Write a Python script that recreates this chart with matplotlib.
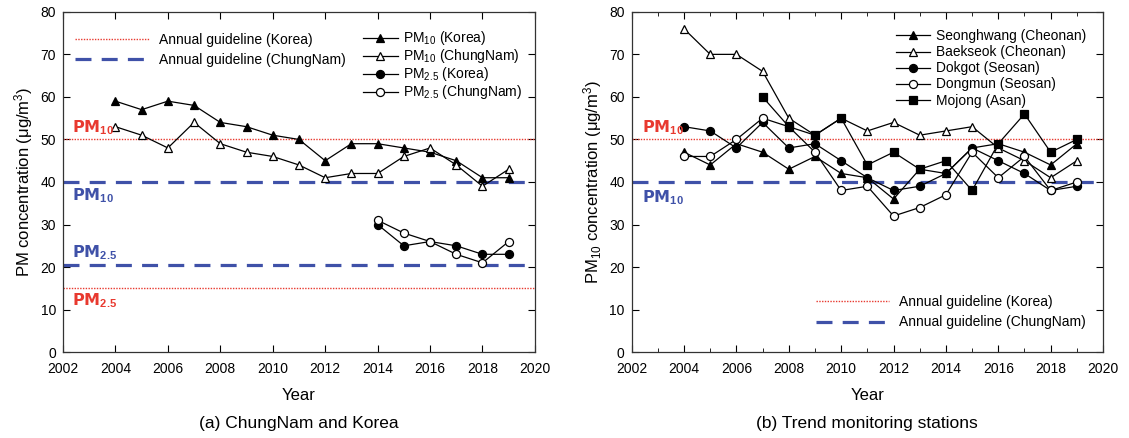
import numpy as np
import matplotlib
matplotlib.use("Agg")
import matplotlib.pyplot as plt
from matplotlib.ticker import MultipleLocator

plt.rcParams['font.family'] = ['Liberation Sans', 'DejaVu Sans']
plt.rcParams['mathtext.fontset'] = 'custom'
plt.rcParams['mathtext.rm'] = 'Liberation Sans'
plt.rcParams['mathtext.it'] = 'Liberation Sans:italic'
plt.rcParams['mathtext.bf'] = 'Liberation Sans:bold'

# ---- data: (a) ChungNam and Korea
years_pm10 = list(range(2004, 2020))
pm10_korea = [59, 57, 59, 58, 54, 53, 51, 50, 45, 49, 49, 48, 47, 45, 41, 41]
pm10_chungnam = [53, 51, 48, 54, 49, 47, 46, 44, 41, 42, 42, 46, 48, 44, 39, 43]
years_pm25 = list(range(2014, 2020))
pm25_korea = [30, 25, 26, 25, 23, 23]
pm25_chungnam = [31, 28, 26, 23, 21, 26]

# guidelines
korea_pm10 = 50
korea_pm25 = 15
chungnam_pm10 = 40
chungnam_pm25 = 20.5

# ---- data: (b) trend monitoring stations
years_st = list(range(2004, 2020))
seonghwang = [47, 44, 49, 47, 43, 46, 42, 41, 36, 43, 42, 48, 49, 47, 44, 49]
baekseok = [76, 70, 70, 66, 55, 51, 55, 52, 54, 51, 52, 53, 48, 45, 41, 45]
dokgot = [53, 52, 48, 54, 48, 49, 45, 41, 38, 39, 42, 48, 45, 42, 38, 39]
dongmun = [46, 46, 50, 55, 53, 47, 38, 39, 32, 34, 37, 47, 41, 46, 38, 40]
years_mojong = list(range(2007, 2020))
mojong = [60, 53, 51, 55, 44, 47, 43, 45, 38, 49, 56, 47, 50]

RED = '#e8392f'
BLUE = '#3f51a8'
DASH = (0, (5, 3.2))
DOT = (0, (1, 1))

fig = plt.figure(figsize=(11.29, 4.38), dpi=100)
ax1 = fig.add_axes([0.0558, 0.196, 0.418, 0.777])
ax2 = fig.add_axes([0.5595, 0.196, 0.4175, 0.777])

mk = dict(color='black', lw=0.9, ms=5.8, mec='black', mew=0.9)
lab = dict(fontsize=11.5, fontweight='bold', family=['DejaVu Sans'], va='center')

def style_axes(ax, minor):
    ax.set_xlim(2002, 2020)
    ax.set_ylim(0, 80)
    ax.xaxis.set_major_locator(MultipleLocator(2))
    ax.yaxis.set_major_locator(MultipleLocator(10))
    if minor:
        ax.xaxis.set_minor_locator(MultipleLocator(1))
    ax.tick_params(which='both', direction='in', top=True, right=True, labelsize=10)
    ax.tick_params(which='major', length=5)
    ax.tick_params(which='minor', length=3)
    ax.tick_params(axis='x', pad=7)
    ax.tick_params(axis='y', pad=5)
    for s in ax.spines.values():
        s.set_linewidth(0.9)
        s.set_color('#333333')
    ax.set_xlabel('Year', fontsize=12, labelpad=9)

# ---- (a)
ax = ax1
g1, = ax.plot([2002, 2020], [korea_pm10] * 2, ls=DOT, color=RED, lw=1.0)
ax.plot([2002, 2020], [korea_pm25] * 2, ls=DOT, color=RED, lw=1.0)
g2, = ax.plot([2002, 2020], [chungnam_pm10] * 2, ls=DASH, color=BLUE, lw=2.3)
ax.plot([2002, 2020], [chungnam_pm25] * 2, ls=DASH, color=BLUE, lw=2.3)

s1, = ax.plot(years_pm10, pm10_korea, marker='^', mfc='black', **mk)
s2, = ax.plot(years_pm10, pm10_chungnam, marker='^', mfc='white', **mk)
s3, = ax.plot(years_pm25, pm25_korea, marker='o', mfc='black', **mk)
s4, = ax.plot(years_pm25, pm25_chungnam, marker='o', mfc='white', **mk)

ax.text(2002.35, 52.8, r'PM$_{\mathbf{10}}$', color=RED, **lab)
ax.text(2002.35, 36.8, r'PM$_{\mathbf{10}}$', color=BLUE, **lab)
ax.text(2002.35, 23.4, r'PM$_{\mathbf{2.5}}$', color=BLUE, **lab)
ax.text(2002.35, 12.0, r'PM$_{\mathbf{2.5}}$', color=RED, **lab)

style_axes(ax, minor=False)
ax.set_ylabel(r'PM concentration ($\mathrm{\mu}$g/m$^3$)', fontsize=12)

leg_g = ax.legend([g1, g2], ['Annual guideline (Korea)', 'Annual guideline (ChungNam)'],
                  loc='upper left', bbox_to_anchor=(0.0, 0.975), frameon=False,
                  fontsize=10, handlelength=5.3, handletextpad=0.7, labelspacing=0.45)
ax.add_artist(leg_g)
ax.legend([s1, s2, s3, s4],
          [r'PM$_{10}$ (Korea)', r'PM$_{10}$ (ChungNam)', r'PM$_{2.5}$ (Korea)', r'PM$_{2.5}$ (ChungNam)'],
          loc='upper right', bbox_to_anchor=(1.0, 0.985), frameon=False, fontsize=10,
          handlelength=2.5, handletextpad=0.4, labelspacing=0.0, numpoints=1)

# ---- (b)
ax = ax2
h1, = ax.plot([2002, 2020], [korea_pm10] * 2, ls=DOT, color=RED, lw=1.0)
h2, = ax.plot([2002, 2020], [chungnam_pm10] * 2, ls=DASH, color=BLUE, lw=2.3)

t1, = ax.plot(years_st, seonghwang, marker='^', mfc='black', **mk)
t2, = ax.plot(years_st, baekseok, marker='^', mfc='white', **mk)
t3, = ax.plot(years_st, dokgot, marker='o', mfc='black', **mk)
t4, = ax.plot(years_st, dongmun, marker='o', mfc='white', **mk)
t5, = ax.plot(years_mojong, mojong, marker='s', mfc='black', **mk)

ax.text(2002.4, 52.8, r'PM$_{\mathbf{10}}$', color=RED, **lab)
ax.text(2002.4, 36.4, r'PM$_{\mathbf{10}}$', color=BLUE, **lab)

style_axes(ax, minor=True)
ax.set_ylabel(r'PM$_{10}$ concentration ($\mathrm{\mu}$g/m$^3$)', fontsize=12)

leg_s = ax.legend([t1, t2, t3, t4, t5],
                  ['Seonghwang (Cheonan)', 'Baekseok (Cheonan)', 'Dokgot (Seosan)',
                   'Dongmun (Seosan)', 'Mojong (Asan)'],
                  loc='upper right', bbox_to_anchor=(0.99, 0.985), frameon=False, fontsize=9.9,
                  handlelength=2.5, handletextpad=0.4, labelspacing=0.15, numpoints=1)
ax.add_artist(leg_s)
ax.legend([h1, h2], ['Annual guideline (Korea)', 'Annual guideline (ChungNam)'],
          loc='lower right', bbox_to_anchor=(0.99, 0.03), frameon=False,
          fontsize=10, handlelength=5.3, handletextpad=0.7, labelspacing=0.45)

fig.text(0.2649, 0.022, '(a) ChungNam and Korea', ha='center', fontsize=12.5)
fig.text(0.768, 0.022, '(b) Trend monitoring stations', ha='center', fontsize=12.5)

fig.savefig('out.png', dpi=100)
